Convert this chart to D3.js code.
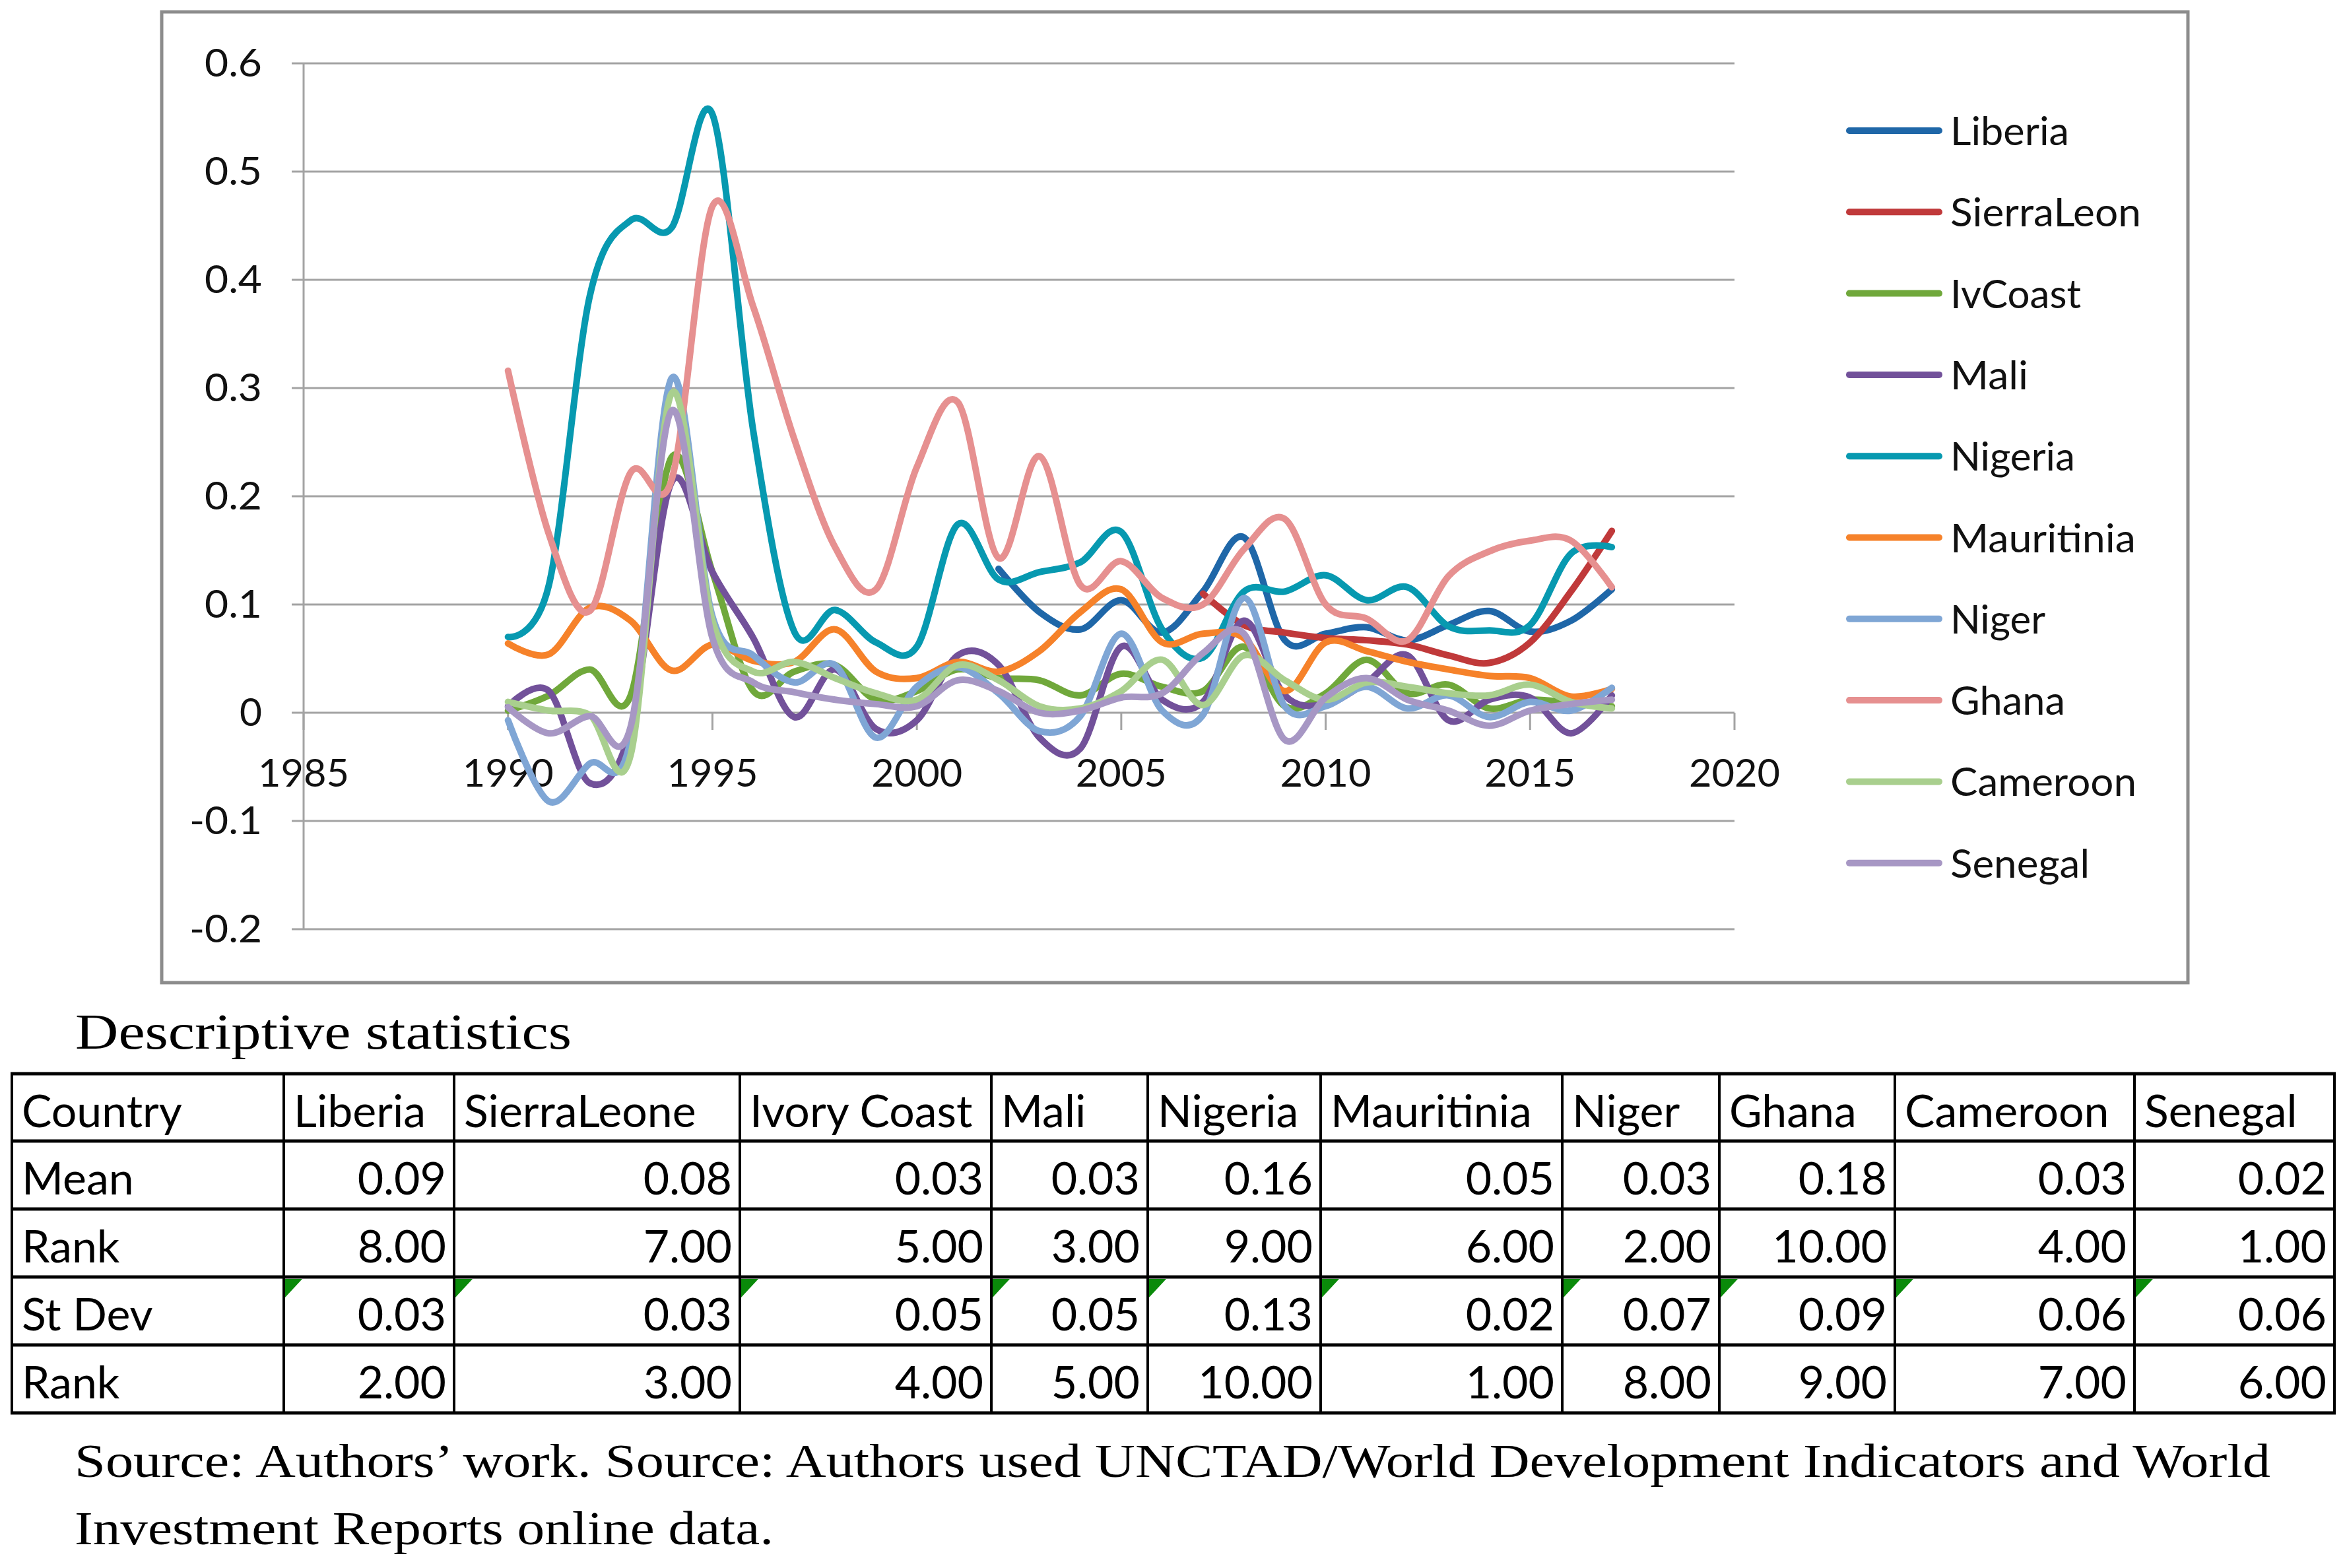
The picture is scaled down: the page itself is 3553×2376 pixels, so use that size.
<!DOCTYPE html>
<html><head><meta charset="utf-8">
<script src="https://cdn.jsdelivr.net/npm/d3@7"></script>
<style>body{margin:0;background:#fff} svg{display:block}</style>
</head><body>
<svg id="c" width="3553" height="2376"></svg>
<script>
// ---------------- DATA ----------------
const years = [1990,1991,1992,1993,1994,1995,1996,1997,1998,1999,2000,2001,2002,2003,2004,2005,2006,2007,2008,2009,2010,2011,2012,2013,2014,2015,2016,2017];
const seriesNames = ["Liberia","SierraLeon","IvCoast","Mali","Nigeria","Mauritinia","Niger","Ghana","Cameroon","Senegal"];
const liberia    = [null,null,null,null,null,null,null,null,null,null,null,null,0.133,0.093,0.077,0.104,0.074,0.112,0.162,0.067,0.073,0.079,0.067,0.081,0.094,0.075,0.085,0.114];
const sierraLeon = [null,null,null,null,null,null,null,null,null,null,null,null,null,null,null,null,null,0.110,0.081,0.074,0.069,0.067,0.063,0.053,0.046,0.065,0.112,0.168];
const ivCoast    = [0.002,0.016,0.040,0.016,0.236,0.130,0.020,0.038,0.044,0.012,0.020,0.040,0.032,0.030,0.016,0.036,0.024,0.020,0.061,0.006,0.018,0.049,0.018,0.026,0.004,0.012,0.009,0.006];
const mali       = [0.006,0.020,-0.065,-0.015,0.213,0.130,0.069,-0.004,0.040,-0.015,-0.007,0.053,0.044,-0.023,-0.033,0.061,0.012,0.010,0.085,0.016,0.008,0.028,0.053,-0.007,0.012,0.014,-0.019,0.016];
const nigeria    = [0.070,0.118,0.385,0.455,0.448,0.553,0.260,0.075,0.095,0.065,0.061,0.174,0.123,0.130,0.139,0.167,0.077,0.051,0.112,0.112,0.127,0.104,0.116,0.080,0.076,0.081,0.147,0.153];
const mauritinia = [0.064,0.054,0.097,0.085,0.039,0.063,0.048,0.047,0.077,0.038,0.032,0.047,0.038,0.057,0.093,0.114,0.065,0.073,0.069,0.020,0.065,0.057,0.047,0.040,0.034,0.032,0.015,0.022];
const niger      = [-0.007,-0.082,-0.047,-0.025,0.309,0.089,0.053,0.028,0.044,-0.023,0.024,0.042,0.018,-0.017,-0.003,0.073,0.002,-0.002,0.106,0.006,0.006,0.024,0.004,0.016,-0.004,0.010,0.002,0.023];
const ghana      = [0.316,0.165,0.094,0.222,0.215,0.468,0.375,0.253,0.153,0.114,0.227,0.287,0.143,0.237,0.118,0.140,0.106,0.100,0.151,0.179,0.100,0.087,0.067,0.126,0.149,0.159,0.159,0.116];
const cameroon   = [0.010,0.002,-0.002,-0.039,0.295,0.085,0.038,0.047,0.032,0.018,0.012,0.044,0.030,0.006,0.004,0.020,0.049,0.007,0.053,0.030,0.012,0.028,0.024,0.018,0.016,0.026,0.010,0.004];
const senegal    = [0.005,-0.019,-0.003,-0.013,0.279,0.069,0.028,0.019,0.012,0.008,0.006,0.030,0.020,0.000,0.002,0.014,0.018,0.055,0.073,-0.025,0.014,0.032,0.012,0.002,-0.012,0.002,0.008,0.012];
const seriesValues = [liberia,sierraLeon,ivCoast,mali,nigeria,mauritinia,niger,ghana,cameroon,senegal];
const seriesColors = ["#1f67a8","#c0393a","#70a83b","#72519a","#0799b0","#f6822a","#7fa6d5","#e69090","#a9cf8e","#a797c4"];

const xTicks = [1985,1990,1995,2000,2005,2010,2015,2020];
const yTicks = [-0.2,-0.1,0,0.1,0.2,0.3,0.4,0.5,0.6];
const yTickLabels = ["-0.2","-0.1","0","0.1","0.2","0.3","0.4","0.5","0.6"];

const tableHeader = ["Country","Liberia","SierraLeone","Ivory Coast","Mali","Nigeria","Mauritinia","Niger","Ghana","Cameroon","Senegal"];
const rowLabels = ["Mean","Rank","St Dev","Rank"];
const meanVals = [0.09,0.08,0.03,0.03,0.16,0.05,0.03,0.18,0.03,0.02];
const meanRank = [8,7,5,3,9,6,2,10,4,1];
const sdVals   = [0.03,0.03,0.05,0.05,0.13,0.02,0.07,0.09,0.06,0.06];
const sdRank   = [2,3,4,5,10,1,8,9,7,6];
const tableTitle = "Descriptive statistics";
const sourceLine1 = "Source: Authors\u2019 work. Source: Authors used UNCTAD/World Development Indicators and World";
const sourceLine2 = "Investment Reports online data.";

// ---------------- LAYOUT ----------------
const svg = d3.select("#c");
const x = d3.scaleLinear().domain([1985,2020]).range([460,2628]);
const y = d3.scaleLinear().domain([-0.2,0.6]).range([1408,96]);
const gridColor = "#a3a3a3";
const chartFont = "Lato, 'Open Sans', sans-serif";

// frame
svg.append("rect").attr("x",245).attr("y",18).attr("width",3070).attr("height",1471)
  .attr("fill","#fff").attr("stroke","#8c8c8c").attr("stroke-width",5);

// gridlines + y ticks
const gy = svg.append("g");
yTicks.forEach((t,i)=>{
  const lab = yTickLabels[i];
  gy.append("line").attr("x1",442).attr("x2",2628).attr("y1",y(t)).attr("y2",y(t))
    .attr("stroke",gridColor).attr("stroke-width",3);
  gy.append("text").attr("x",397).attr("y",y(t)+20).attr("text-anchor","end")
    .attr("font-family",chartFont).attr("font-size",58).attr("fill","#111")
    .attr("textLength", lab.length===1?34:(lab.length===4?110:87)).attr("lengthAdjust","spacingAndGlyphs")
    .text(lab);
});
// y axis line
svg.append("line").attr("x1",x(1985)).attr("x2",x(1985)).attr("y1",y(0.6)).attr("y2",y(-0.2))
  .attr("stroke",gridColor).attr("stroke-width",3);
// x ticks & labels
xTicks.forEach(t=>{
  svg.append("line").attr("x1",x(t)).attr("x2",x(t)).attr("y1",y(0)).attr("y2",y(0)+26)
    .attr("stroke",gridColor).attr("stroke-width",3);
  svg.append("text").attr("x",x(t)).attr("y",y(0)+112).attr("text-anchor","middle")
    .attr("font-family",chartFont).attr("font-size",58).attr("fill","#111")
    .attr("textLength",138).attr("lengthAdjust","spacingAndGlyphs").text(t);
});

// lines
const line = d3.line().defined(d=>d.v!==null).x(d=>x(d.yr)).y(d=>y(d.v))
  .curve(d3.curveCardinal.tension(0));
seriesValues.forEach((vals,i)=>{
  const pts = years.map((yr,j)=>({yr, v: vals[j]}));
  svg.append("path").attr("d",line(pts)).attr("fill","none")
    .attr("stroke",seriesColors[i]).attr("stroke-width",10)
    .attr("stroke-linecap","round").attr("stroke-linejoin","round");
});

// legend
const legendWidths = [180,289,198,118,189,281,144,174,282,211];
seriesNames.forEach((n,i)=>{
  const cy = 198 + i*123.3;
  svg.append("line").attr("x1",2802).attr("x2",2938).attr("y1",cy).attr("y2",cy)
    .attr("stroke",seriesColors[i]).attr("stroke-width",10).attr("stroke-linecap","round");
  svg.append("text").attr("x",2955).attr("y",cy+22).attr("font-family",chartFont)
    .attr("font-size",60).attr("fill","#111")
    .attr("textLength",legendWidths[i]).attr("lengthAdjust","spacingAndGlyphs").text(n);
});

// ---------------- TABLE ----------------
const serif = "'Liberation Serif', 'DejaVu Serif', serif";
svg.append("text").attr("x",114).attr("y",1589).attr("font-family",serif).attr("font-size",76)
  .attr("textLength",752).attr("lengthAdjust","spacingAndGlyphs").text(tableTitle);

const colX = [18,430,688,1121,1502,1739,2001,2367,2605,2871,3234,3537];
const rowY = [1627,1729,1832,1935,2038,2141];
const tfont = "Lato, 'Open Sans', sans-serif";
const rows = [meanVals.map(v=>v.toFixed(2)), meanRank.map(v=>v.toFixed(2)), sdVals.map(v=>v.toFixed(2)), sdRank.map(v=>v.toFixed(2))];

// header
tableHeader.forEach((h,c)=>{
  svg.append("text").attr("x",colX[c]+15).attr("y",rowY[0]+81).attr("font-family",tfont)
    .attr("font-size",68).text(h);
});
rowLabels.forEach((lab,r)=>{
  svg.append("text").attr("x",colX[0]+15).attr("y",rowY[r+1]+81).attr("font-family",tfont)
    .attr("font-size",68).text(lab);
  rows[r].forEach((v,c)=>{
    svg.append("text").attr("x",colX[c+2]-12).attr("y",rowY[r+1]+81).attr("text-anchor","end")
      .attr("font-family",tfont).attr("font-size",68).text(v);
  });
});
// green indicators on St Dev row
for(let c=1;c<colX.length-1;c++){
  const x0 = colX[c]+2, y0 = rowY[3]+3;
  svg.append("path").attr("d",`M${x0},${y0}L${x0+26},${y0}L${x0},${y0+28}Z`).attr("fill","#0a8a0a");
}
// grid lines
rowY.forEach(yy=>{
  svg.append("line").attr("x1",colX[0]-2).attr("x2",colX[colX.length-1]+2).attr("y1",yy).attr("y2",yy)
    .attr("stroke","#000").attr("stroke-width",5);
});
colX.forEach(xx=>{
  svg.append("line").attr("x1",xx).attr("x2",xx).attr("y1",rowY[0]).attr("y2",rowY[rowY.length-1])
    .attr("stroke","#000").attr("stroke-width",4);
});

// source
svg.append("text").attr("x",113).attr("y",2238).attr("font-family",serif).attr("font-size",72)
  .attr("textLength",3327).attr("lengthAdjust","spacingAndGlyphs").text(sourceLine1);
svg.append("text").attr("x",113).attr("y",2340).attr("font-family",serif).attr("font-size",72)
  .attr("textLength",1059).attr("lengthAdjust","spacingAndGlyphs").text(sourceLine2);
</script>
</body></html>
